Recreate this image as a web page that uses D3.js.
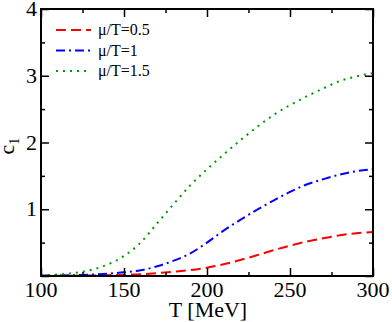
<!DOCTYPE html>
<html>
<head>
<meta charset="utf-8">
<script src="https://cdn.jsdelivr.net/npm/d3@7"></script>
<style>
  body { margin: 0; background: #fff; }
  svg text { font-family: "Liberation Serif", "DejaVu Serif", serif; }
</style>
</head>
<body>
<div id="chart"></div>
<script>
var width = 392, height = 322;

// temperatures (MeV) and c1 values
var temps = [100, 110, 120, 130, 140, 150, 160, 170, 180, 190, 200, 210, 220, 230, 240, 250, 260, 270, 280, 290, 300];
var c1_mu05 = [0.002, 0.003, 0.005, 0.008, 0.012, 0.018, 0.026, 0.043, 0.065, 0.09, 0.125, 0.175, 0.24, 0.31, 0.385, 0.455, 0.515, 0.565, 0.61, 0.64, 0.66];
var c1_mu1 = [0.005, 0.008, 0.013, 0.022, 0.035, 0.055, 0.085, 0.145, 0.23, 0.34, 0.5, 0.68, 0.84, 0.99, 1.13, 1.26, 1.37, 1.45, 1.52, 1.57, 1.6];
var c1_mu15 = [0.01, 0.022, 0.045, 0.09, 0.17, 0.3, 0.5, 0.79, 1.08, 1.36, 1.6, 1.82, 2.03, 2.23, 2.41, 2.56, 2.69, 2.81, 2.92, 2.99, 3.04];

var seriesNames = ["\u03bc/T=0.5", "\u03bc/T=1", "\u03bc/T=1.5"];
var seriesColors = ["#ff0000", "#0000ff", "#009900"];
var seriesDash = ["10,5", "9,4,2,4", "2,5"];
var seriesValues = [c1_mu05, c1_mu1, c1_mu15];

var xTicks = [100, 150, 200, 250, 300];
var yTicks = [1, 2, 3, 4];

// plot box (window.top is reserved, so own names)
var pLeft = 41, pRight = 373, pTop = 9, pBottom = 276;

var svg = d3.select("#chart").append("svg")
    .attr("width", width)
    .attr("height", height);

var x = d3.scaleLinear().domain([100, 300]).range([pLeft, pRight]);
var y = d3.scaleLinear().domain([0, 4]).range([pBottom, pTop]);

// curves
var line = d3.line()
    .x(function(d) { return x(d[0]); })
    .y(function(d) { return y(d[1]); })
    .curve(d3.curveMonotoneX);

seriesValues.forEach(function(vals, k) {
    svg.append("path")
        .datum(temps.map(function(t, i) { return [t, vals[i]]; }))
        .attr("d", line)
        .attr("fill", "none")
        .attr("stroke", seriesColors[k])
        .attr("stroke-width", 2)
        .attr("stroke-dasharray", seriesDash[k]);
});

// ticks on all four sides, pointing in
var xMinor = d3.range(100, 301, 25);
var yMinor = d3.range(0, 4.01, 0.5);

function tickLen(v, step) { return Math.abs(v / step - Math.round(v / step)) < 1e-6 ? 8 : 4; }

svg.append("g").attr("class", "axis axis--x")
    .attr("transform", "translate(0," + pBottom + ")")
    .call(d3.axisBottom(x).tickValues(xMinor).tickSizeInner(0).tickSizeOuter(0).tickFormat(""))
    .call(function(g) {
        g.select(".domain").remove();
        g.selectAll(".tick line").attr("y2", function(d) { return -tickLen(d, 50); })
            .attr("stroke", "#000").attr("stroke-width", 1.5);
    });

svg.append("g").attr("class", "axis axis--x")
    .attr("transform", "translate(0," + pTop + ")")
    .call(d3.axisTop(x).tickValues(xMinor).tickSizeInner(0).tickSizeOuter(0).tickFormat(""))
    .call(function(g) {
        g.select(".domain").remove();
        g.selectAll(".tick line").attr("y2", function(d) { return tickLen(d, 50); })
            .attr("stroke", "#000").attr("stroke-width", 1.5);
    });

svg.append("g").attr("class", "axis axis--y")
    .attr("transform", "translate(" + pLeft + ",0)")
    .call(d3.axisLeft(y).tickValues(yMinor).tickSizeInner(0).tickSizeOuter(0).tickFormat(""))
    .call(function(g) {
        g.select(".domain").remove();
        g.selectAll(".tick line").attr("x2", function(d) { return tickLen(d, 1); })
            .attr("stroke", "#000").attr("stroke-width", 1.5);
    });

svg.append("g").attr("class", "axis axis--y")
    .attr("transform", "translate(" + pRight + ",0)")
    .call(d3.axisRight(y).tickValues(yMinor).tickSizeInner(0).tickSizeOuter(0).tickFormat(""))
    .call(function(g) {
        g.select(".domain").remove();
        g.selectAll(".tick line").attr("x2", function(d) { return -tickLen(d, 1); })
            .attr("stroke", "#000").attr("stroke-width", 1.5);
    });

// frame
svg.append("rect")
    .attr("x", pLeft).attr("y", pTop)
    .attr("width", pRight - pLeft).attr("height", pBottom - pTop)
    .attr("fill", "none").attr("stroke", "#000").attr("stroke-width", 2);

// tick labels
svg.selectAll(".xlab").data(xTicks).enter().append("text")
    .attr("class", "xlab")
    .attr("x", function(d) { return x(d); })
    .attr("y", 297)
    .attr("text-anchor", "middle")
    .attr("font-size", "22px")
    .text(function(d) { return d; });

svg.selectAll(".ylab").data(yTicks).enter().append("text")
    .attr("class", "ylab")
    .attr("x", 37)
    .attr("y", function(d) { return y(d) + 7; })
    .attr("text-anchor", "end")
    .attr("font-size", "22px")
    .text(function(d) { return d; });

// axis titles
svg.append("text")
    .attr("x", 208).attr("y", 317)
    .attr("text-anchor", "middle")
    .attr("font-size", "22px")
    .text("T [MeV]");

var ylab = svg.append("text")
    .attr("transform", "translate(14,146) rotate(-90)")
    .attr("text-anchor", "middle")
    .attr("font-size", "22px");
ylab.append("tspan").text("c");
ylab.append("tspan").attr("font-size", "14px").attr("dy", 5).text("1");

// legend
seriesNames.forEach(function(name, k) {
    var ly = 30 + k * 20.5;
    svg.append("line")
        .attr("x1", 56).attr("x2", 91)
        .attr("y1", ly).attr("y2", ly)
        .attr("stroke", seriesColors[k])
        .attr("stroke-width", 2)
        .attr("stroke-dasharray", seriesDash[k]);
    svg.append("text")
        .attr("x", 98).attr("y", ly + 5)
        .attr("font-size", "16px")
        .text(name);
});
</script>
</body>
</html>
